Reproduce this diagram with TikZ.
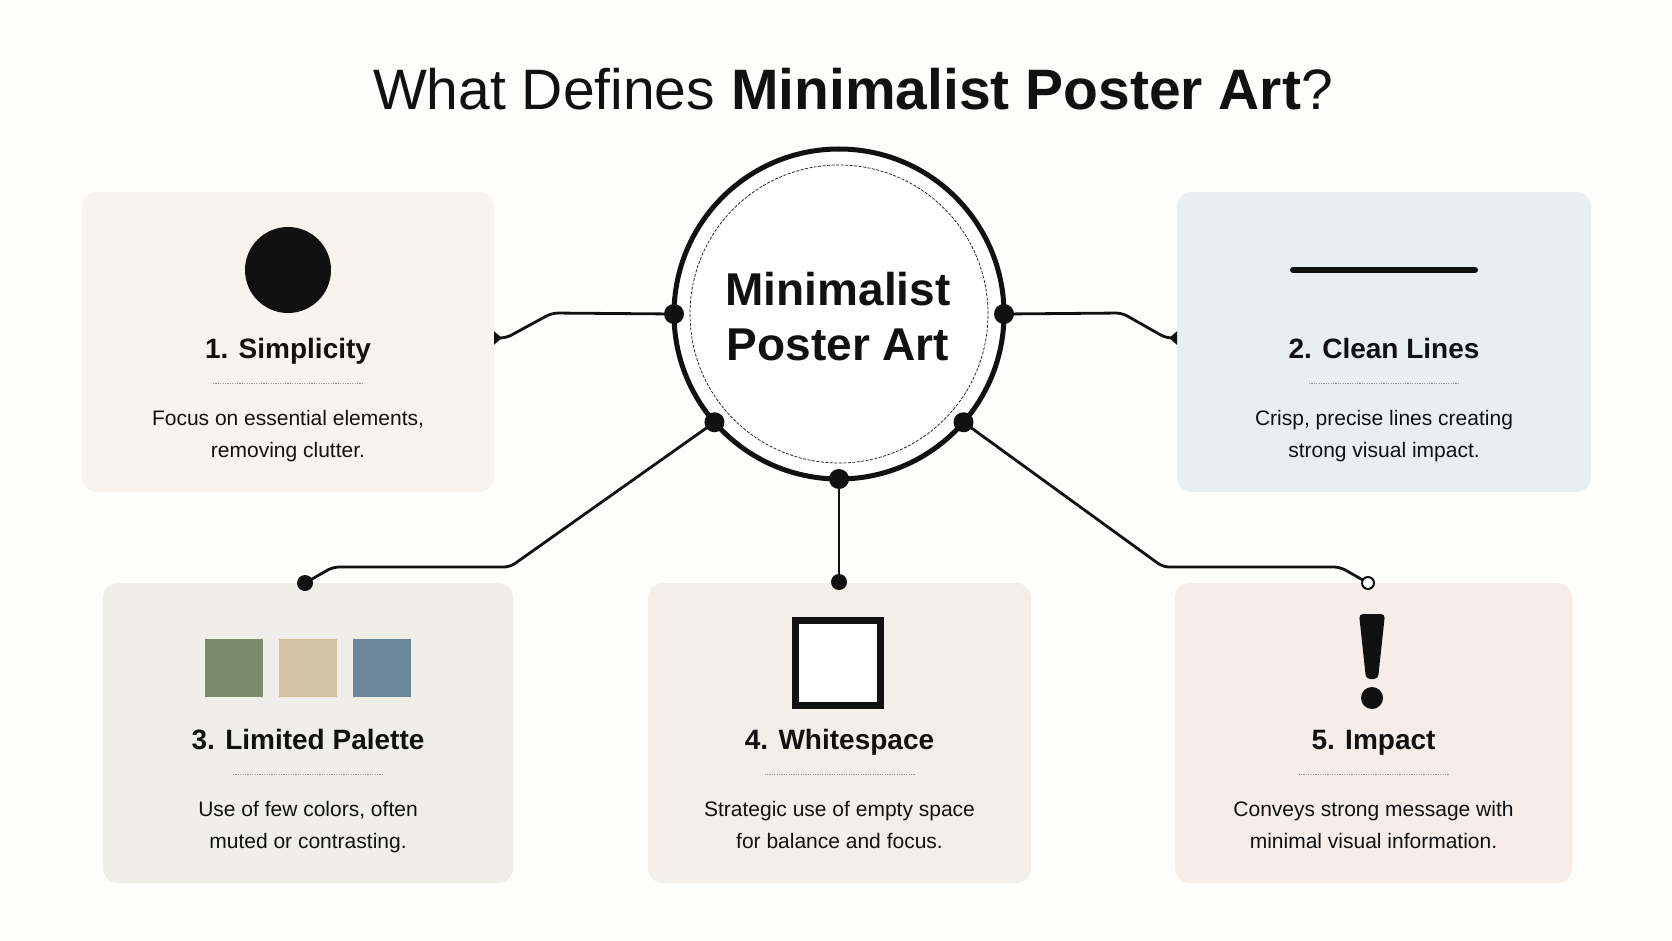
\documentclass[tikz,border=0pt]{standalone}
\usepackage{fontspec}
\setmainfont{Liberation Sans}
\usetikzlibrary{arrows.meta}
\definecolor{ink}{HTML}{111111}
\definecolor{bgc}{HTML}{FDFDFC}
\definecolor{cardA}{HTML}{F7F3EE}
\definecolor{cardB}{HTML}{E9EEF1}
\definecolor{cardC}{HTML}{EFEEE8}
\definecolor{cardD}{HTML}{F2EFEA}
\definecolor{cardE}{HTML}{F6ECE8}
\definecolor{swgreen}{HTML}{7B8B6B}
\definecolor{swtan}{HTML}{D4C0A2}
\definecolor{swblue}{HTML}{6B8799}
\pgfdeclarelayer{cardlayer}
\pgfdeclarelayer{linelayer}
\pgfsetlayers{cardlayer,linelayer,main}
\tikzset{
  cardbox/.style={fill=#1, draw=none, rounded corners=15pt, inner sep=0, outer sep=0},
  cardtitle/.style={font=\fontsize{28}{32}\selectfont\bfseries, anchor=base, text=ink, inner sep=0},
  cardbody/.style={font=\fontsize{21}{32}\selectfont, anchor=base, text=ink, inner sep=0},
  hubtext/.style={font=\fontsize{46}{55}\selectfont\bfseries, anchor=base, text=ink, inner sep=0},
  conn/.style={line width=2.8pt, rounded corners=6pt, draw=ink},
  hubdot/.style={circle, fill=ink, minimum size=20pt, inner sep=0},
  enddot/.style={circle, fill=ink, minimum size=16pt, inner sep=0},
  opendot/.style={circle, fill=white, draw=ink, line width=2pt, minimum size=12pt, inner sep=0},
  cardrule/.style={draw=gray!80, line width=0.8pt, dash pattern=on 1.2pt off 1.2pt},
  swatch/.style={fill=#1, minimum size=58pt, inner sep=0},
  tip/.style={-{Triangle[reversed, length=8pt, width=13pt]}}
}
\newcommand\mycard[9]{%
  \begin{pgfonlayer}{cardlayer}
  \node[cardbox=#6, minimum width=#4pt, minimum height=#5pt, anchor=north] (#1) at (#2,#3) {};
  \end{pgfonlayer}
  \node[cardtitle] (#1t) at (#2,#3+166) {#7};
  \draw[cardrule] (#2-75,#3+191) -- (#2+75,#3+191);
  \node[cardbody] (#1a) at (#2,#3+233) {#8};
  \node[cardbody] (#1b) at (#2,#3+265) {#9};
}
\begin{document}
\begin{tikzpicture}[x=1pt, y=-1pt]
\begin{pgfonlayer}{cardlayer}
\fill[bgc] (0,0) rectangle (1672,941);
\end{pgfonlayer}
\useasboundingbox (0,0) rectangle (1672,941);

\node[font=\fontsize{57}{66}\selectfont, anchor=base, text=ink, inner sep=0] (title) at (853,110)
  {What Defines \textbf{Minimalist Poster Art}?};

\mycard{c1}{288}{192}{412}{300}{cardA}{1. Simplicity}{Focus on essential elements,}{removing clutter.}
\mycard{c2}{1384}{192}{414}{300}{cardB}{2. Clean Lines}{Crisp, precise lines creating}{strong visual impact.}
\mycard{c3}{308}{583}{410}{300}{cardC}{3. Limited Palette}{Use of few colors, often}{muted or contrasting.}
\mycard{c4}{839.5}{583}{383}{300}{cardD}{4. Whitespace}{Strategic use of empty space}{for balance and focus.}
\mycard{c5}{1373.5}{583}{397}{300}{cardE}{5. Impact}{Conveys strong message with}{minimal visual information.}

% icons
\node[circle, fill=ink, minimum size=86pt, inner sep=0] (i1) at (288,270) {};
\draw[line width=6pt, line cap=round, ink] (1293,270) -- (1475,270);
\node[swatch=swgreen] (s1) at (234,668) {};
\node[swatch=swtan] (s2) at (307.5,668) {};
\node[swatch=swblue] (s3) at (381.5,668) {};
\node[draw=ink, line width=7pt, fill=white, minimum size=85pt, inner sep=0] (i4) at (838,662.5) {};
\fill[ink, rounded corners=4pt] (1359,614) -- (1385,614) -- (1378,679) -- (1366,679) -- cycle;
\fill[ink] (1372,698) circle[radius=11pt];

% hub
\node[circle, draw=ink, line width=5pt, fill=white, minimum size=330pt, inner sep=0, outer sep=0] (hub) at (839,314) {};
\draw[ink, line width=0.7pt, dash pattern=on 3pt off 1.5pt] (hub.center) circle[radius=149pt];
\node[hubtext] (h1) at (838,305) {Minimalist};
\node[hubtext] (h2) at (838,360) {Poster Art};

\node[hubdot] (d1) at (hub.180) {};
\node[hubdot] (d2) at (hub.0) {};
\node[hubdot] (d3) at (hub.-139) {};
\node[hubdot] (d4) at (hub.-90) {};
\node[hubdot] (d5) at (hub.-41) {};

\node[enddot] (e3) at (305,583) {};
\node[enddot] (e4) at (839,582) {};
\node[opendot] (e5) at (1368,583) {};

% connectors
\begin{pgfonlayer}{linelayer}
\draw[conn, tip] (d1.center) -- (552,313) -- (506,338) -- (c1.east |- 0,338);
\draw[conn, tip] (d2.center) -- (1122,313) -- (1166,338) -- (c2.west |- 0,338);
\draw[conn] (d3.center) -- (510,567) -- (333,567) -- (e3.center);
\draw[conn] (d4.center) -- (e4.center);
\draw[conn] (d5.center) -- (1163,567) -- (1340,567) -- (e5.center);
\end{pgfonlayer}
\end{tikzpicture}
\end{document}
